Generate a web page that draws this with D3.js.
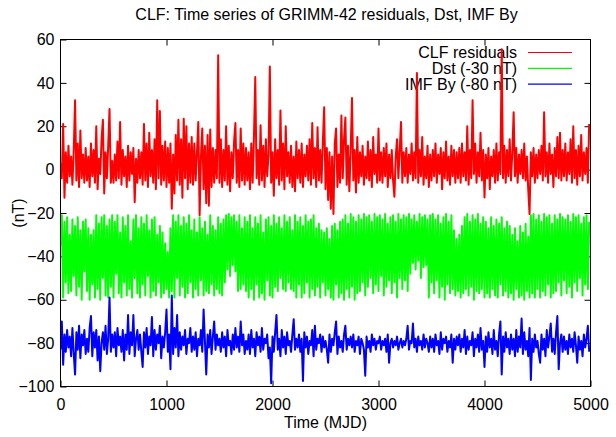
<!DOCTYPE html>
<html>
<head>
<meta charset="utf-8">
<script src="https://cdn.jsdelivr.net/npm/d3@7"></script>
<style>
  html, body { margin: 0; padding: 0; background: #fff; }
  svg { display: block; font-family: "Liberation Sans", Arial, Helvetica, sans-serif; }
</style>
</head>
<body>
<svg id="chart" width="616" height="437"></svg>
<script>
// sampling of the series: one value every 12.5 MJD starting at MJD 0
const mjdStart = 0;
const mjdStep = 12.5;

// CLF residuals (nT), rows of 20 samples = 250 MJD
const clfResiduals = [
  3, -4, 21, -13, 8, -6, 11, -3, 6, -7, 9, 32, -5, 12, -8, 18, -4, 7, -6, 10,
  -5, 6, -8, 12, -3, 9, -6, 20, -9, 5, -2, 14, 23, -11, 8, -4, 11, 28, -6, 4,
  -6, 7, -5, 13, -4, 22, -7, 9, -3, 6, -8, 11, -5, 8, -2, 10, -15, 5, -6, 9,
  -4, 8, -7, 21, -5, 12, -8, 17, -3, 9, -6, 14, -9, 32, -4, 27, -7, 11, -5, 13,
  -8, 10, -6, 12, -18, 7, -11, 16, -5, 23, -7, 14, -13, 23.5, -4, 20, -9, 12, -6, 15,
  -7, 12, -5, 8, 22, -21, 6, 19, -9, 11, -15.5, 16, -16.6, 18.5, -8, 10, -6, 9, -4, 52.7,
  -6, 14, -8, 9, -5, 20, -7, 11, -10, 8, -4, 13, 21.5, -6, 9, -8, 19, -5, 12, -7,
  10, -5, 8, -9, 12, -6, 15, 42.7, -4, 9, -7, 20.5, -5, 11, -8, 14, -3, 7, 47.6, -6,
  8, -12, 14, -4, 9, -7, 27.3, -5, 12, -9, 20, -3, 8, -6, 11, -8, 6, -10, 13, -4,
  9, -6, 12, -8, 7, -3, 11, -5, 14, -7, 21.5, -4, 10, -8, 19.5, -5, 9, -6, 13, 28.8,
  -9, 10, -14, 8, -18, 6, -20.5, 12, 19, -8, 7, -6, 25, -4, 14, 24, -7, 11, -10, 9,
  33, -5, 9, -10.5, 15, -6, 8, -3, 11, -7, 6, -4, 13, -5, 9, -8, 15, -2, 7, -6,
  19, -5, 8, -6, 10, -3, 12, -8, 7, -4, 9, -5, -12.5, 6, 14, -4, 9, 22, -6, 8,
  -3, 10, -6, 7, -2, 12, -5, 8, -4, 44.5, -6, 9, -3, 15, -7, 6, -4, 11, -8, 7,
  -5, 9, -3, 12, -6, 7, -2, 10, -9, 8, -4, 13, -5, 6, -7, 11, -3, 9, -6, 8,
  -4, 10, -6, 12, -3, 8, -5, 20, -7, 9, -4, 32, -2, 12, -6, 8, -3, 17, -5, 9,
  -12.8, 7, -4, 10, -9, 6, -3, 9, -6, 12, -5, 8, -2, 55.5, -4, 11, -6, 9, -3, 14,
  -5, 8, 26.5, -3, 10, -6, 7, -2, 9, -4, 12, -5, 6, -9, -20.5, 8, -3, 10, -6, 7,
  -4, 9, -2, 11, -5, 26.5, -3, 8, -6, 12, -2, 7, -8, 10, -3, 15, -4, 17, -5, 9,
  -3, 12, -5, 8, -2, 14, -6, 20, -4, 9, -7, 11, -3, 16, -5, 8, -2, 10, -6, 21
];

// Dst shifted by -30 nT
const dstShifted = [
  -35, -21, -59, -24, -52, -22, -57, -30, -56, -23, -49, -26, -58, -22, -54, -28, -60, -24, -47, -23,
  -56, -27, -60, -30, -53, -28, -59, -21, -55, -25, -60, -22, -50, -21, -58, -26, -59, -23, -54, -21,
  -59, -24, -48, -21, -57, -29, -59, -22, -52, -26, -58, -21, -55, -33, -59, -23, -50, -21, -57, -27,
  -59, -22, -53, -25, -58, -21, -49, -28, -59, -23, -56, -22, -58, -30, -52, -26, -59, -29, -57, -34,
  -55, -38, -59, -27, -56, -21, -59, -24, -50, -21, -58, -26, -54, -22, -59, -25, -57, -21, -52, -28,
  -59, -23, -55, -29, -58, -22, -51, -27, -58, -24, -56, -30, -57, -21, -53, -26, -58, -28, -55, -22,
  -57, -25, -58, -23, -52, -21, -46, -20.5, -49, -22, -44, -21, -47, -24, -56, -21, -55, -27, -53, -22,
  -56, -24, -59, -21, -55, -27, -60, -22, -53, -25, -59, -21, -57, -29, -60, -23, -51, -22, -58, -26,
  -59, -21, -54, -25, -56, -22, -50, -27, -55, -21, -56, -24, -52, -22, -55, -28, -56, -21, -59, -24,
  -53, -22, -59, -26, -57, -21, -52, -24, -59, -23, -55, -21, -58, -27, -54, -25, -59, -28, -52, -29,
  -58, -27, -55, -32, -59, -26, -60, -25, -53, -28, -59, -24, -57, -23, -60, -21, -55, -25, -59, -20.5,
  -54, -22, -60, -24, -57, -21, -56, -23, -52, -20.5, -58, -22, -54, -21, -50, -24, -57, -20.5, -53, -22,
  -56, -21, -49, -23, -58, -20.5, -54, -25, -51, -22, -57, -21, -52, -24, -59, -20.5, -50, -23, -55, -21,
  -51, -22, -56, -20.5, -48, -23, -43, -21, -46, -24, -42, -20.5, -50, -22, -45, -21, -44, -23, -59, -21,
  -52, -20.5, -57, -23, -51, -21, -59, -25, -54, -22, -60, -20.5, -53, -24, -57, -21, -55, -28, -58, -32,
  -56, -30, -59, -26, -57, -22, -55, -20.5, -58, -24, -54, -21, -60, -23, -56, -20.5, -57, -25, -55, -22,
  -59, -24, -57, -27, -59, -22, -55, -26, -58, -23, -59, -25, -53, -22, -58, -27, -56, -24, -59, -26,
  -57, -30, -60, -27, -55, -33, -59, -26, -58, -29, -60, -25, -56, -31, -59, -21, -57, -20.5, -59, -23,
  -55, -21, -59, -24, -56, -20.5, -58, -22, -53, -21, -59, -25, -57, -21, -56, -23, -52, -20.5, -58, -22,
  -51, -23, -57, -21, -54, -24, -59, -20.5, -52, -22, -56, -21, -50, -25, -58, -22, -53, -21, -55, -24
];

// IMF By shifted by -80 nT
const imfByShifted = [
  -83, -70, -90, -76, -84, -74, -82, -77, -86, -73, -85, -94.5, -75, -83, -72, -87, -76, -81, -74, -85,
  -78, -84, -73, -67.5, -86, -75, -82, -74, -88, -77, -93, -80, -75, -83, -72, -85, -78, -59, -84, -76,
  -82, -75, -86, -73, -81, -77, -84, -74, -88, -76, -83, -67, -85, -75, -81, -67, -86, -78, -74, -83,
  -76, -84, -91, -75, -82, -73, -85, -77, -81, -68, -86, -74, -83, -76, -80, -72, -87, -77, -82, -75,
  -64.5, -84, -76, -92, -58, -85, -73, -82, -67, -86, -75, -83, -77, -81, -74, -85, -78, -80, -73, -84,
  -77, -83, -75, -86, -78, -81, -74, -84, -64.5, -79, -94.5, -76, -82, -74, -85, -77, -70, -83, -76, -81,
  -78, -84, -75, -82, -77, -86, -74, -81, -79, -85, -76, -83, -73, -82, -77, -84, -70, -81, -76, -85,
  -79, -83, -76, -85, -74, -82, -78, -86, -75, -81, -77, -84, -73, -83, -78, -80, -76, -87, -82, -98.5,
  -77, -84, -75, -67, -83, -78, -86, -74, -82, -77, -85, -75, -81, -79, -84, -76, -69, -83, -78, -82,
  -76, -84, -78, -97.5, -75, -82, -77, -85, -79, -81, -74, -86, -72, -83, -78, -80, -76, -84, -77, -82,
  -79, -83, -89, -76, -84, -78, -81, -75, -70, -85, -77, -82, -79, -84, -76, -72, -83, -78, -81, -77,
  -82, -76, -84, -79, -81, -77, -85, -78, -80, -83, -95, -77, -82, -79, -84, -76, -81, -78, -83, -79,
  -80, -77, -83, -79, -81, -78, -84, -76, -89, -80, -78, -82, -79, -81, -77, -83, -80, -78, -82, -79,
  -81, -78, -72, -83, -79, -80, -71, -82, -78, -84, -77, -81, -79, -83, -76, -82, -78, -80, -84, -77,
  -82, -78, -84, -76, -81, -79, -85, -75, -83, -78, -80, -77, -84, -79, -82, -76, -89, -78, -83, -77,
  -81, -76, -84, -78, -82, -74, -85, -77, -83, -79, -81, -75, -86, -78, -82, -76, -84, -73, -83, -79,
  -91, -77, -84, -75, -82, -78, -85, -74, -83, -79, -86, -76, -70, -94.5, -77, -84, -75, -82, -78, -85,
  -76, -83, -78, -86, -74, -84, -77, -82, -68.7, -85, -75, -83, -79, -86, -73, -97, -78, -84, -76, -82,
  -79, -85, -89, -76, -83, -78, -86, -74, -82, -77, -71, -84, -78, -85, -75, -67.5, -92, -80, -76, -84,
  -77, -83, -79, -85, -76, -82, -78, -84, -75, -81, -89, -77, -83, -79, -86, -76, -82, -78, -72, -84
];

const seriesNames = ['CLF residuals', 'Dst (-30 nT)', 'IMF By (-80 nT)'];
const seriesColors = ['#ff0000', '#00ff00', '#0000ff'];
const xTicks = [0, 1000, 2000, 3000, 4000, 5000];
const yTicks = [-100, -80, -60, -40, -20, 0, 20, 40, 60];

const titleText = 'CLF: Time series of GRIMM-42 residuals, Dst, IMF By';
const xLabel = 'Time (MJD)';
const yLabel = '(nT)';

/* ── Dimensions ── */
const plotBox = { left: 60.5, right: 590.5, top: 39.5, bottom: 386.5 };
const FS = 16;

const svg = d3.select('#chart');

const x = d3.scaleLinear().domain([0, 5000]).range([plotBox.left, plotBox.right]);
const y = d3.scaleLinear().domain([-100, 60]).range([plotBox.bottom, plotBox.top]);
const iW = plotBox.right - plotBox.left;
const iH = plotBox.bottom - plotBox.top;

svg.append('defs').append('clipPath').attr('id', 'plotclip')
  .append('rect')
  .attr('x', plotBox.left).attr('y', plotBox.top)
  .attr('width', iW).attr('height', iH);

/* ── Title and axis labels ── */
svg.append('text')
  .attr('x', plotBox.left + iW / 2 + 1)
  .attr('y', 20)
  .attr('text-anchor', 'middle')
  .attr('font-size', FS)
  .text(titleText);

svg.append('text')
  .attr('x', plotBox.left + iW / 2)
  .attr('y', 428)
  .attr('text-anchor', 'middle')
  .attr('font-size', FS)
  .text(xLabel);

svg.append('text')
  .attr('transform', `translate(24,${plotBox.top + iH / 2}) rotate(-90)`)
  .attr('text-anchor', 'middle')
  .attr('font-size', FS)
  .text(yLabel);

/* ── Axes (ticks point inward, mirrored on top/right) ── */
const styleAxis = (a) => {
  a.select('.domain').remove();
  a.selectAll('line').attr('stroke', '#000').attr('stroke-width', 1);
  a.selectAll('text').attr('fill', '#000').attr('font-size', FS).attr('font-family', null);
};

svg.append('g')
  .attr('transform', `translate(0,${plotBox.bottom})`)
  .call(d3.axisBottom(x).tickValues(xTicks).tickSize(-6).tickPadding(12).tickFormat(d3.format('d')))
  .call(styleAxis);

svg.append('g')
  .attr('transform', `translate(0,${plotBox.top})`)
  .call(d3.axisTop(x).tickValues(xTicks.slice(1, -1)).tickSize(-6).tickFormat(''))
  .call(styleAxis);

svg.append('g')
  .attr('transform', `translate(${plotBox.left},0)`)
  .call(d3.axisLeft(y).tickValues(yTicks).tickSize(-6).tickPadding(6).tickFormat(d3.format('d')))
  .call(styleAxis);

svg.append('g')
  .attr('transform', `translate(${plotBox.right},0)`)
  .call(d3.axisRight(y).tickValues(yTicks.slice(1, -1)).tickSize(-6).tickFormat(''))
  .call(styleAxis);

/* ── Legend (drawn before the data, as gnuplot does) ── */
const legend = svg.append('g');
seriesNames.forEach((name, i) => {
  const ly = 52.5 + i * 15.8;
  legend.append('text')
    .attr('x', 517)
    .attr('y', ly)
    .attr('dy', '0.35em')
    .attr('text-anchor', 'end')
    .attr('font-size', FS)
    .text(name);
  legend.append('line')
    .attr('x1', 528).attr('x2', 572)
    .attr('y1', ly).attr('y2', ly)
    .attr('stroke', seriesColors[i])
    .attr('stroke-width', 1.2);
});

/* ── Series ── */
const line = d3.line()
  .x((d, i) => x(mjdStart + i * mjdStep))
  .y((d) => y(d));

const plot = svg.append('g').attr('clip-path', 'url(#plotclip)');
[clfResiduals, dstShifted, imfByShifted].forEach((vals, i) => {
  plot.append('path')
    .datum(vals)
    .attr('d', line)
    .attr('fill', 'none')
    .attr('stroke', seriesColors[i])
    .attr('stroke-width', 2)
    .attr('stroke-linejoin', 'round');
});

/* ── Border ── */
svg.append('rect')
  .attr('x', plotBox.left).attr('y', plotBox.top)
  .attr('width', iW).attr('height', iH)
  .attr('fill', 'none')
  .attr('stroke', '#000')
  .attr('stroke-width', 1);
</script>
</body>
</html>
